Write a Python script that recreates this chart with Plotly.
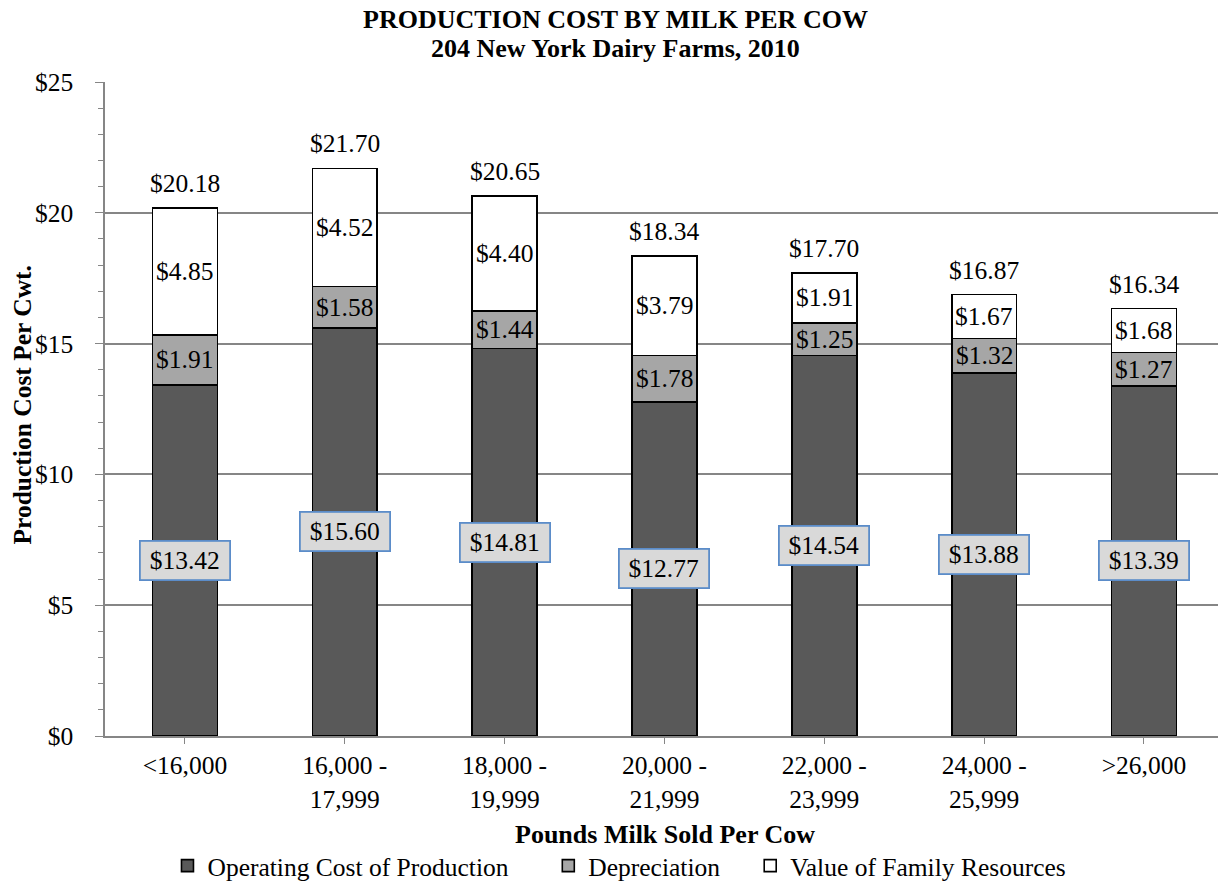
import plotly.graph_objects as go

categories = ["&lt;16,000", "16,000 -<br>17,999", "18,000 -<br>19,999", "20,000 -<br>21,999",
              "22,000 -<br>23,999", "24,000 -<br>25,999", "&gt;26,000"]
operating = [13.42, 15.60, 14.81, 12.77, 14.54, 13.88, 13.39]
depreciation = [1.91, 1.58, 1.44, 1.78, 1.25, 1.32, 1.27]
family = [4.85, 4.52, 4.40, 3.79, 1.91, 1.67, 1.68]
totals = [20.18, 21.70, 20.65, 18.34, 17.70, 16.87, 16.34]

FONT = "Liberation Serif"
FS = 25.5
xs = list(range(len(categories)))

W, H = 1218, 884
L, T, B = 104.5, 82, 736


def px(X):
    return (X - L) / (W - L)


def py(Y):
    return (B - Y) / (B - T)


fig = go.Figure()
fig.add_bar(x=xs, y=operating, name="Operating Cost of Production", legend="legend",
            marker=dict(color="#595959", line=dict(color="black", width=1.6)))
fig.add_bar(x=xs, y=depreciation, name="Depreciation", legend="legend2",
            marker=dict(color="#a6a6a6", line=dict(color="black", width=1.6)))
fig.add_bar(x=xs, y=family, name="Value of Family Resources", legend="legend3",
            marker=dict(color="white", line=dict(color="black", width=1.6)))

anns = []
for i in xs:
    o, d, f, t = operating[i], depreciation[i], family[i], totals[i]
    anns.append(dict(x=i, y=o / 2, text=f"${o:.2f}", showarrow=False, xref="x", yref="y",
                     font=dict(family=FONT, size=FS, color="black"), bgcolor="#d9d9d9",
                     bordercolor="#5b8cc9", borderwidth=1.8, borderpad=2, width=84, height=33))
    anns.append(dict(x=i, y=o + d / 2, text=f"${d:.2f}", showarrow=False, xref="x", yref="y",
                     font=dict(family=FONT, size=FS, color="black")))
    anns.append(dict(x=i, y=o + d + f / 2, text=f"${f:.2f}", showarrow=False, xref="x", yref="y",
                     font=dict(family=FONT, size=FS, color="black")))
    anns.append(dict(x=i, y=t, text=f"${t:.2f}", showarrow=False, xref="x", yref="y",
                     yanchor="bottom", yshift=8,
                     font=dict(family=FONT, size=FS, color="black")))

anns.append(dict(x=px(615), y=py(19), xref="paper", yref="paper", showarrow=False,
                 text="<b>PRODUCTION COST BY MILK PER COW</b>", yanchor="middle",
                 font=dict(family=FONT, size=26, color="black")))
anns.append(dict(x=px(615), y=py(49), xref="paper", yref="paper", showarrow=False,
                 text="<b>204 New York Dairy Farms, 2010</b>", yanchor="middle",
                 font=dict(family=FONT, size=26, color="black")))
anns.append(dict(x=px(21), y=py(405), xref="paper", yref="paper", showarrow=False, textangle=-90,
                 text="<b>Production Cost Per Cwt.</b>", xanchor="center", yanchor="middle",
                 font=dict(family=FONT, size=FS, color="black")))
anns.append(dict(x=px(665), y=py(834), xref="paper", yref="paper", showarrow=False,
                 text="<b>Pounds Milk Sold Per Cow</b>", yanchor="middle",
                 font=dict(family=FONT, size=26, color="black")))

leg_common = dict(orientation="h", yanchor="middle", y=py(866), xanchor="left",
                  font=dict(family=FONT, size=FS), itemwidth=30, bgcolor="rgba(0,0,0,0)")

fig.update_layout(
    barmode="stack", bargap=0.594,
    width=W, height=H,
    margin=dict(l=L, r=0, t=T, b=H - B, autoexpand=False),
    paper_bgcolor="white", plot_bgcolor="white",
    font=dict(family=FONT, size=FS, color="black"),
    annotations=anns,
    showlegend=True,
    legend=dict(x=px(167), **leg_common),
    legend2=dict(x=px(548), **leg_common),
    legend3=dict(x=px(750), **leg_common),
)
fig.update_xaxes(tickmode="array", tickvals=xs, ticktext=categories, range=[-0.5, 6.463],
                 showline=True, linecolor="#868686", linewidth=1.5, ticks="outside",
                 tickcolor="#868686", ticklen=6, tickson="boundaries",
                 tickfont=dict(family=FONT, size=FS), automargin=False)
fig.update_yaxes(range=[0, 25], dtick=5, tickprefix="$", showgrid=True, gridcolor="#868686",
                 gridwidth=1.5, showline=True, linecolor="#868686", linewidth=1.5,
                 ticks="outside", ticklen=8, tickcolor="#868686", ticklabelstandoff=17,
                 minor=dict(dtick=1, ticks="outside", ticklen=5, tickcolor="#868686", showgrid=False),
                 tickfont=dict(family=FONT, size=FS), zeroline=False, automargin=False)

fig.write_html("out.html", config={"displayModeBar": False},
               post_script="document.body.style.margin='0';"
                           "document.documentElement.style.overflow='hidden';")
